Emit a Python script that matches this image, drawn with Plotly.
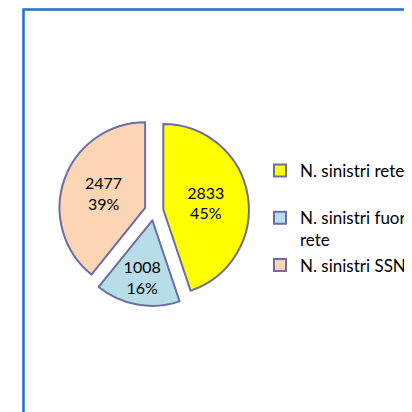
import plotly.graph_objects as go

labels = ["N. sinistri rete<br> ", "N. sinistri fuori<br>rete", "N. sinistri SSN"]
values = [2833, 1008, 2477]
colors = ["#FFFF00", "#B7DEE8", "#FCD5B5"]

# figure is drawn inside the page body (8px default margin)
W = H = 404
cx, cy = 146, 203
half = 95

fig = go.Figure(go.Pie(
    labels=labels,
    values=values,
    sort=False,
    direction="clockwise",
    rotation=0,
    pull=[0.11, 0.11, 0.11],
    marker=dict(colors=colors, line=dict(color="#6E6DA3", width=2)),
    texttemplate="%{value}<br>%{percent:.0%}",
    textposition="inside",
    insidetextorientation="horizontal",
    textfont=dict(family="Lato", size=16, color="black"),
    domain=dict(x=[(cx - half) / W, (cx + half) / W],
                y=[1 - (cy + half) / H, 1 - (cy - half) / H]),
    hoverinfo="label+value+percent",
))

fig.update_layout(
    width=W, height=H,
    margin=dict(l=0, r=0, t=0, b=0, autoexpand=False),
    paper_bgcolor="white",
    plot_bgcolor="white",
    font=dict(family="Lato", size=16, color="black"),
    showlegend=True,
    legend=dict(x=252 / W, y=1 - 145 / H, xanchor="left", yanchor="top",
                valign="top",
                font=dict(family="Lato", size=17, color="black"),
                bgcolor="rgba(0,0,0,0)", itemclick=False),
    shapes=[dict(type="rect", xref="paper", yref="paper",
                 x0=15.5 / W, x1=1.05, y0=-0.05, y1=1 - 1.5 / H,
                 line=dict(color="#1C6FD5", width=2.5), fillcolor="rgba(0,0,0,0)")],
)

fig.write_html("out.html")
